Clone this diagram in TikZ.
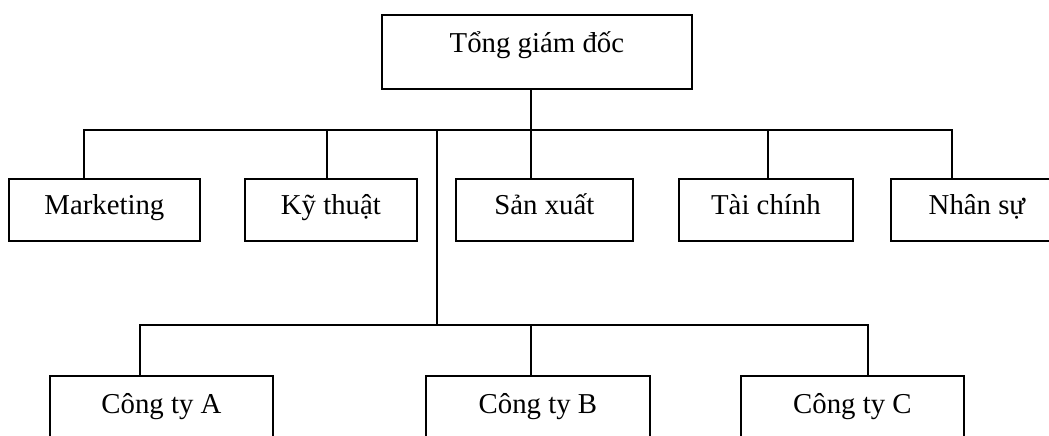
\documentclass[tikz,border=0pt]{standalone}
\usepackage{fontspec}
\setmainfont{Liberation Serif}

\begin{document}
\begin{tikzpicture}[x=1pt, y=-1pt, line width=1.8pt,
    unit/.style={draw, inner sep=0pt, anchor=north west, font=\fontsize{28.8}{34}\selectfont},
    topunit/.style={unit, text height=38pt, text depth=36pt},
    rowunit/.style={unit, text height=36pt, text depth=26pt},
    lowunit/.style={unit, text height=38pt, text depth=62pt}]
    \useasboundingbox (0,0) rectangle (1049,436);
    \clip (0,0) rectangle (1049,436);

    \node (tgd) [topunit, minimum width=310pt] at (381,14) {Tổng giám đốc};

    \node (mkt) [rowunit, minimum width=191pt] at (8,178) {Marketing};
    \node (kt) [rowunit, minimum width=172pt] at (244,178) {Kỹ thuật};
    \node (sx) [rowunit, minimum width=177pt] at (455,178) {Sản xuất};
    \node (tc) [rowunit, minimum width=174pt] at (678,178) {Tài chính};
    \node (ns) [rowunit, minimum width=172pt] at (890,178) {Nhân sự};

    \node (ctA) [lowunit, minimum width=223pt] at (49,375) {Công ty A};
    \node (ctB) [lowunit, minimum width=224pt] at (425,375) {Công ty B};
    \node (ctC) [lowunit, minimum width=223pt] at (740,375) {Công ty C};

    \coordinate (busL) at (84,130);
    \coordinate (busR) at (952,130);
    \coordinate (hub) at (531,130);
    \coordinate (dKt) at (327,130);
    \coordinate (dTc) at (768,130);
    \coordinate (stem) at (437,130);
    \coordinate (sub) at (437,325);
    \coordinate (subL) at (140,325);
    \coordinate (subR) at (868,325);

    \draw (tgd.south -| hub) -- (hub);
    \draw (busL |- mkt.north) -- (busL) -- (busR) -- (busR |- ns.north);
    \draw (dKt) -- (dKt |- kt.north);
    \draw (hub) -- (hub |- sx.north);
    \draw (dTc) -- (dTc |- tc.north);
    \draw (stem) -- (sub);
    \draw (subL |- ctA.north) -- (subL) -- (subR) -- (subR |- ctC.north);
    \draw (hub |- sub) -- (hub |- ctB.north);
\end{tikzpicture}
\end{document}
